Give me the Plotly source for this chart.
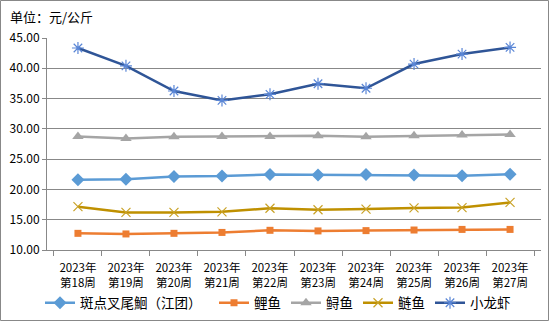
import plotly.graph_objects as go

weeks = ["2023年<br>第18周", "2023年<br>第19周", "2023年<br>第20周", "2023年<br>第21周", "2023年<br>第22周",
         "2023年<br>第23周", "2023年<br>第24周", "2023年<br>第25周", "2023年<br>第26周", "2023年<br>第27周"]

catfish = [21.6, 21.7, 22.15, 22.2, 22.45, 22.4, 22.45, 22.4, 22.25, 22.5]
carp = [12.75, 12.65, 12.75, 12.9, 13.25, 13.15, 13.2, 13.3, 13.4, 13.4]
sturgeon = [28.75, 28.4, 28.7, 28.75, 28.75, 28.85, 28.7, 28.85, 29.0, 29.05]
silver_carp = [17.15, 16.2, 16.2, 16.3, 16.9, 16.65, 16.75, 16.95, 17.0, 17.85]
crayfish = [43.35, 40.4, 36.25, 34.7, 35.7, 37.45, 36.7, 40.7, 42.35, 43.45]

names = ["斑点叉尾鮰（江团）", "鲤鱼", "鲟鱼", "鲢鱼", "小龙虾"]

W, H = 550, 322
L, R, T, B = 47, 9, 38, 72
pw, ph = W - L - R, H - T - B

FONT = "Noto Sans CJK SC"

fig = go.Figure()

fig.add_trace(go.Scatter(x=weeks, y=catfish, name=names[0], mode="lines+markers", legend="legend",
                         line=dict(color="#5B9BD5", width=2.5),
                         marker=dict(symbol="diamond", size=10, color="#5B9BD5")))
fig.add_trace(go.Scatter(x=weeks, y=carp, name=names[1], mode="lines+markers", legend="legend2",
                         line=dict(color="#ED7D31", width=2.5),
                         marker=dict(symbol="square", size=7, color="#ED7D31")))
fig.add_trace(go.Scatter(x=weeks, y=sturgeon, name=names[2], mode="lines+markers", legend="legend2",
                         line=dict(color="#A5A5A5", width=2.5),
                         marker=dict(symbol="triangle-up", size=10, color="#A5A5A5")))
fig.add_trace(go.Scatter(x=weeks, y=silver_carp, name=names[3], mode="lines+markers", legend="legend2",
                         line=dict(color="#BF9000", width=2.5),
                         marker=dict(symbol="x-thin-open", size=9, color="#C9A227",
                                     line=dict(width=1.2, color="#C9A227"))))
fig.add_trace(go.Scatter(x=weeks, y=crayfish, name=names[4], mode="lines+markers", legend="legend2",
                         line=dict(color="#2F5597", width=2.5),
                         marker=dict(symbol="asterisk-open", size=10, color="#5A86D6",
                                     line=dict(width=1.2, color="#5A86D6"))))

legend_common = dict(orientation="h", xref="container", yref="container",
                     xanchor="left", y=1 - 303 / H, yanchor="middle",
                     font=dict(size=13.5, family=FONT, color="#000000"),
                     itemwidth=30, tracegroupgap=0, bgcolor="rgba(0,0,0,0)")

fig.update_layout(
    width=W, height=H,
    margin=dict(l=L, r=R, t=T, b=B, autoexpand=False),
    paper_bgcolor="white", plot_bgcolor="white",
    font=dict(family=FONT, color="#000000"),
    showlegend=True,
    legend=dict(x=40 / W, **legend_common),
    legend2=dict(x=214 / W, **legend_common),
    xaxis=dict(type="category", showgrid=False, showline=True, linecolor="#888888", linewidth=1,
               ticks="outside", tickson="boundaries", ticklen=5, tickcolor="#888888",
               ticklabelstandoff=7, automargin=False,
               tickfont=dict(size=11.5, family=FONT, color="#000000"), fixedrange=True),
    yaxis=dict(range=[10, 45], dtick=5, tick0=10, tickformat=".2f", showgrid=True, gridcolor="#888888",
               gridwidth=1, showline=True, linecolor="#888888", linewidth=1, ticks="outside",
               ticklen=4, tickcolor="#888888", zeroline=False, automargin=False,
               tickfont=dict(size=12, family=FONT, color="#000000")),
    annotations=[dict(text="单位：元/公斤", xref="paper", yref="paper", x=(8 - L) / pw, xanchor="left",
                      y=1 + (T - 17) / ph, yanchor="middle", showarrow=False,
                      font=dict(size=13, family=FONT, color="#000000"))],
    shapes=[dict(type="rect", xref="paper", yref="paper",
                 x0=(0.5 - L) / pw, x1=(W - 1.5 - L) / pw,
                 y0=-(B - 1.5) / ph, y1=1 + (T - 0.5) / ph,
                 line=dict(color="#888888", width=1), fillcolor="rgba(0,0,0,0)", layer="below")],
)

fig.write_html("out.html")
